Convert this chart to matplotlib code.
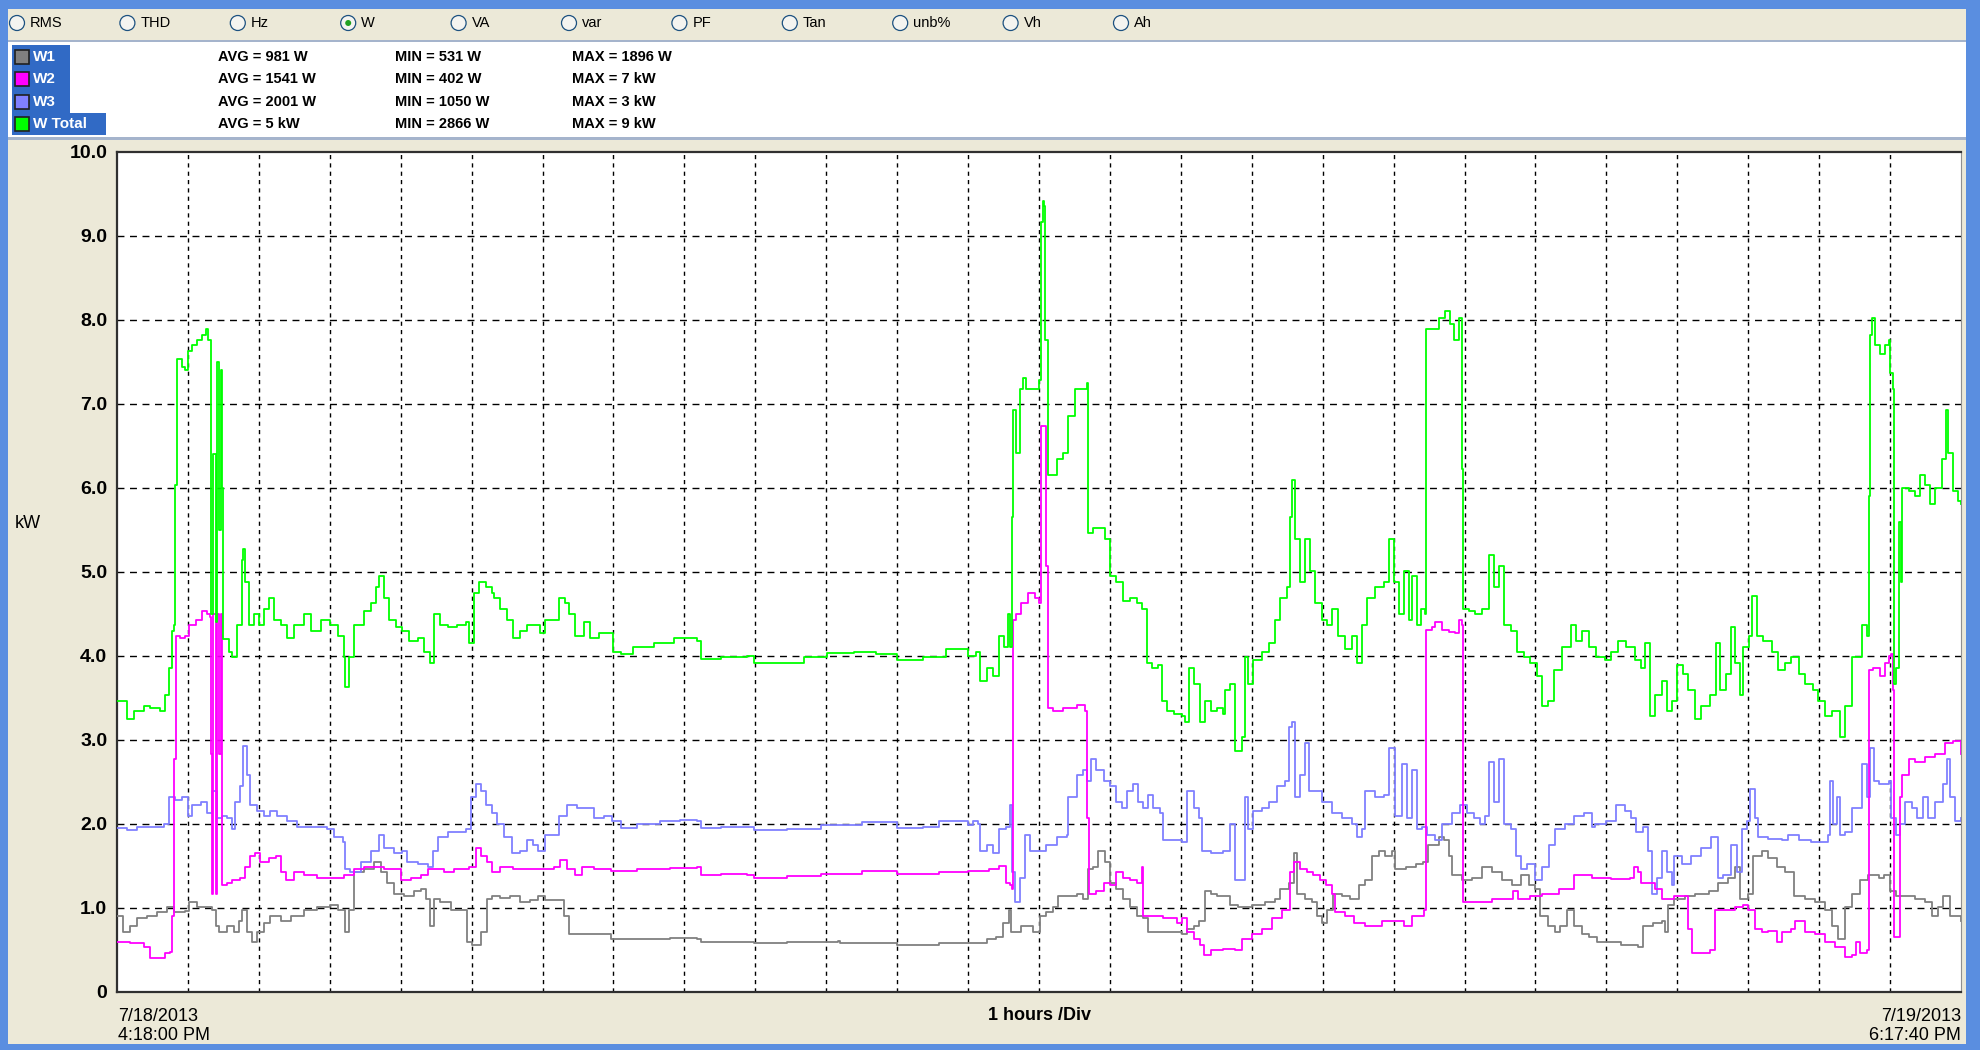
import matplotlib
matplotlib.use("Agg")
import matplotlib.pyplot as plt
from matplotlib import font_manager
from matplotlib.patches import Rectangle, Ellipse

# ---- data: hours since 7/18/2013 4:18:00 PM, power in kW ----
w1_h = [0.00, 0.09, 0.19, 0.28, 0.42, 0.56, 0.71, 0.80, 0.89, 0.96, 1.01, 1.13, 1.25, 1.34, 1.39, 1.44,
        1.55, 1.65, 1.72, 1.76, 1.84, 1.91, 1.98, 2.07, 2.16, 2.31, 2.45, 2.64, 2.82, 3.01, 3.11, 3.20,
        3.22, 3.27, 3.34, 3.48, 3.62, 3.72, 3.81, 3.91, 4.05, 4.19, 4.28, 4.35, 4.42, 4.47, 4.56, 4.71,
        4.89, 4.94, 5.01, 5.13, 5.22, 5.29, 5.40, 5.54, 5.68, 5.83, 5.94, 6.04, 6.20, 6.30, 6.37, 6.63,
        6.88, 6.96, 7.33, 7.80, 8.18, 8.23, 8.88, 8.98, 9.45, 10.16, 10.20, 10.51, 11.00, 11.59, 12.21,
        12.26, 12.40, 12.49, 12.58, 12.61, 12.68, 12.75, 12.82, 12.92, 13.01, 13.10, 13.20, 13.27, 13.39,
        13.53, 13.62, 13.69, 13.76, 13.83, 13.93, 14.00, 14.09, 14.19, 14.28, 14.38, 14.47, 14.54, 14.66,
        14.85, 15.01, 15.08, 15.18, 15.25, 15.34, 15.42, 15.51, 15.60, 15.69, 15.81, 16.00, 16.19, 16.33,
        16.40, 16.52, 16.59, 16.64, 16.75, 16.85, 16.92, 16.99, 17.06, 17.15, 17.27, 17.39, 17.51, 17.60,
        17.70, 17.79, 17.88, 17.98, 18.02, 18.17, 18.31, 18.42, 18.49, 18.64, 18.71, 18.78, 18.82, 18.96,
        19.11, 19.25, 19.39, 19.53, 19.67, 19.79, 19.91, 20.00, 20.07, 20.17, 20.28, 20.35, 20.45, 20.54,
        20.66, 20.75, 20.87, 21.02, 21.21, 21.45, 21.52, 21.66, 21.78, 21.82, 21.87, 21.96, 22.11, 22.25,
        22.44, 22.58, 22.72, 22.81, 22.88, 23.00, 23.07, 23.19, 23.28, 23.40, 23.52, 23.64, 23.80, 23.94,
        24.08, 24.18, 24.27, 24.36, 24.46, 24.58, 24.69, 24.84, 24.91, 25.00, 25.09, 25.21, 25.35, 25.49,
        25.59, 25.68, 25.75, 25.85, 26.00]
w1_kw = [0.91, 0.72, 0.79, 0.88, 0.91, 0.95, 1.01, 0.95, 0.95, 0.97, 1.07, 1.01, 1.01, 0.98, 0.79, 0.72,
         0.79, 0.72, 0.85, 0.98, 0.72, 0.60, 0.72, 0.82, 0.91, 0.85, 0.91, 0.98, 1.01, 1.04, 0.98, 0.98,
         0.72, 0.98, 1.43, 1.46, 1.55, 1.43, 1.30, 1.17, 1.14, 1.20, 1.23, 1.11, 0.79, 1.11, 1.07, 0.98,
         0.98, 0.60, 0.56, 0.72, 1.11, 1.14, 1.12, 1.14, 1.07, 1.09, 1.14, 1.09, 1.09, 0.91, 0.69, 0.69,
         0.69, 0.63, 0.63, 0.64, 0.63, 0.60, 0.60, 0.58, 0.60, 0.61, 0.58, 0.58, 0.56, 0.58, 0.58,
         0.63, 0.66, 0.82, 0.98, 0.72, 0.72, 0.79, 0.79, 0.72, 0.91, 0.95, 1.01, 1.14, 1.14,
         1.17, 1.11, 1.46, 1.49, 1.68, 1.55, 1.30, 1.23, 1.11, 1.01, 0.91, 0.88, 0.72, 0.72,
         0.72, 0.69, 0.75, 0.79, 0.85, 1.20, 1.17, 1.14, 1.14, 1.04, 1.01, 1.04, 1.07, 1.11,
         1.23, 1.30, 1.65, 1.17, 1.11, 1.07, 0.91, 0.82, 0.98, 1.17, 1.14, 1.11, 1.27, 1.33,
         1.62, 1.68, 1.62, 1.68, 1.46, 1.49, 1.52, 1.55, 1.75, 1.84, 1.81, 1.62, 1.39, 1.33,
         1.36, 1.49, 1.43, 1.33, 1.27, 1.39, 1.27, 1.23, 0.91, 0.79, 0.72, 0.79, 0.98, 0.79,
         0.69, 0.66, 0.60, 0.60, 0.56, 0.54, 0.79, 0.82, 0.85, 0.72, 1.04, 1.11, 1.14, 1.17,
         1.20, 1.30, 1.36, 1.49, 1.11, 1.17, 1.62, 1.68, 1.59, 1.49, 1.43, 1.14, 1.11, 1.07,
         0.98, 0.79, 0.63, 1.01, 1.17, 1.33, 1.39, 1.36, 1.39, 1.20, 1.14, 1.14, 1.11, 1.07,
         0.91, 1.01, 1.14, 0.91, 0.85]

w2_h = [0.00, 0.19, 0.38, 0.47, 0.61, 0.68, 0.75, 0.78, 0.81, 0.83, 0.89, 0.96, 1.01, 1.11, 1.20, 1.27,
        1.31, 1.32, 1.34, 1.36, 1.39, 1.41, 1.44, 1.46, 1.48, 1.55, 1.62, 1.74, 1.81, 1.88, 1.95, 2.02,
        2.14, 2.24, 2.31, 2.38, 2.49, 2.64, 2.82, 3.01, 3.20, 3.34, 3.48, 3.62, 3.76, 3.91, 4.00, 4.14,
        4.28, 4.38, 4.47, 4.61, 4.75, 4.96, 5.06, 5.13, 5.22, 5.29, 5.40, 5.59, 5.78, 5.97, 6.16, 6.25,
        6.34, 6.46, 6.55, 6.72, 6.96, 7.33, 7.80, 8.18, 8.23, 8.51, 8.88, 8.98, 9.45, 9.92, 10.51, 11.00,
        11.59, 12.00, 12.30, 12.44, 12.54, 12.59, 12.62, 12.63, 12.68, 12.75, 12.84, 12.94, 13.00, 13.03,
        13.08, 13.10, 13.13, 13.20, 13.34, 13.53, 13.65, 13.68, 13.71, 13.81, 13.91, 14.00, 14.09, 14.19,
        14.28, 14.38, 14.45, 14.47, 14.57, 14.75, 14.94, 15.01, 15.08, 15.18, 15.27, 15.32, 15.42, 15.60,
        15.77, 15.86, 16.00, 16.14, 16.28, 16.42, 16.52, 16.54, 16.59, 16.68, 16.78, 16.87, 16.96, 17.04,
        17.13, 17.18, 17.32, 17.44, 17.60, 17.84, 18.02, 18.14, 18.26, 18.43, 18.45, 18.54, 18.59, 18.68,
        18.78, 18.87, 18.92, 18.96, 18.98, 19.11, 19.39, 19.62, 19.68, 19.76, 19.93, 20.09, 20.33, 20.54,
        20.68, 20.80, 21.07, 21.33, 21.39, 21.45, 21.49, 21.59, 21.68, 21.78, 21.96, 22.11, 22.15, 22.21,
        22.34, 22.46, 22.53, 22.62, 22.81, 22.93, 23.00, 23.09, 23.19, 23.28, 23.40, 23.47, 23.61, 23.66,
        23.80, 23.94, 24.08, 24.22, 24.36, 24.46, 24.52, 24.58, 24.67, 24.70, 24.76, 24.86, 24.93, 24.98,
        25.01, 25.04, 25.06, 25.13, 25.14, 25.17, 25.26, 25.35, 25.49, 25.64, 25.78, 25.89, 25.96, 26.00]
w2_kw = [0.60, 0.58, 0.53, 0.40, 0.40, 0.47, 0.48, 0.91, 2.77, 4.24, 4.21, 4.24, 4.37, 4.43, 4.53, 4.50,
         4.47, 2.83, 1.17, 4.50, 1.17, 4.50, 2.83, 4.50, 1.27, 1.30, 1.33, 1.36, 1.49, 1.62, 1.65, 1.55,
         1.59, 1.62, 1.43, 1.33, 1.43, 1.39, 1.36, 1.36, 1.39, 1.46, 1.49, 1.49, 1.46, 1.46, 1.33, 1.36,
         1.39, 1.46, 1.46, 1.43, 1.46, 1.49, 1.71, 1.62, 1.55, 1.43, 1.49, 1.46, 1.46, 1.46, 1.49, 1.57,
         1.46, 1.39, 1.49, 1.46, 1.44, 1.46, 1.48, 1.49, 1.39, 1.40, 1.39, 1.36, 1.38, 1.40, 1.44, 1.41,
         1.43, 1.44, 1.47, 1.50, 1.30, 1.27, 1.23, 4.43, 4.50, 4.63, 4.75, 4.69, 4.63, 6.74,
         6.74, 5.07, 3.38, 3.35, 3.38, 3.42, 3.35, 2.07, 1.17, 1.20, 1.30, 1.27, 1.43, 1.36,
         1.33, 1.30, 1.49, 0.91, 0.91, 0.88, 0.82, 0.88, 0.72, 0.63, 0.56, 0.44, 0.50, 0.51,
         0.50, 0.63, 0.69, 0.75, 0.88, 0.98, 0.98, 1.43, 1.55, 1.46, 1.43, 1.39, 1.33, 1.27,
         1.17, 0.95, 0.91, 0.82, 0.79, 0.85, 0.85, 0.79, 0.91, 0.98, 4.31, 4.34, 4.40, 4.31,
         4.29, 4.27, 4.43, 4.37, 1.07, 1.07, 1.11, 1.11, 1.20, 1.11, 1.14, 1.17, 1.23, 1.39,
         1.39, 1.36, 1.35, 1.36, 1.49, 1.43, 1.30, 1.30, 1.23, 1.11, 1.14, 1.14, 0.75, 0.47,
         0.47, 0.50, 0.98, 0.98, 1.01, 1.04, 0.98, 0.75, 0.72, 0.73, 0.60, 0.72, 0.75, 0.85,
         0.72, 0.69, 0.60, 0.53, 0.42, 0.44, 0.60, 0.47, 0.50, 3.83, 3.86, 3.76, 3.92, 4.00,
         4.02, 3.60, 0.66, 0.66, 2.32, 2.58, 2.77, 2.74, 2.80, 2.83, 2.96, 2.99, 2.99, 2.83]

w3_h = [0.00, 0.14, 0.28, 0.47, 0.66, 0.73, 0.82, 0.92, 1.00, 1.06, 1.18, 1.27, 1.34, 1.41, 1.48, 1.55,
        1.62, 1.67, 1.74, 1.78, 1.84, 1.88, 1.98, 2.07, 2.16, 2.26, 2.40, 2.54, 2.68, 2.82, 2.96, 3.06,
        3.18, 3.22, 3.29, 3.44, 3.58, 3.69, 3.76, 3.91, 4.02, 4.09, 4.24, 4.38, 4.45, 4.52, 4.66, 4.80,
        4.92, 4.99, 5.06, 5.13, 5.20, 5.29, 5.36, 5.45, 5.57, 5.68, 5.78, 5.87, 5.94, 6.04, 6.16, 6.23,
        6.34, 6.48, 6.60, 6.72, 6.86, 6.98, 7.10, 7.33, 7.66, 7.94, 8.18, 8.23, 8.51, 8.88, 8.98, 9.45,
        9.92, 10.51, 11.00, 11.36, 11.59, 11.78, 12.00, 12.07, 12.14, 12.17, 12.26, 12.35, 12.44, 12.54,
        12.59, 12.62, 12.66, 12.73, 12.80, 12.87, 13.01, 13.10, 13.25, 13.39, 13.41, 13.53, 13.62, 13.67,
        13.74, 13.81, 13.91, 14.00, 14.09, 14.17, 14.24, 14.33, 14.40, 14.47, 14.54, 14.61, 14.71, 14.75,
        14.90, 15.01, 15.09, 15.18, 15.25, 15.30, 15.42, 15.60, 15.69, 15.77, 15.86, 15.91, 15.95, 16.02,
        16.14, 16.24, 16.35, 16.47, 16.52, 16.57, 16.61, 16.68, 16.75, 16.80, 16.87, 16.99, 17.13, 17.27,
        17.41, 17.48, 17.55, 17.60, 17.74, 17.86, 17.93, 18.02, 18.12, 18.19, 18.26, 18.33, 18.40, 18.47,
        18.59, 18.68, 18.82, 18.94, 19.04, 19.13, 19.22, 19.29, 19.34, 19.41, 19.48, 19.55, 19.65, 19.72,
        19.79, 19.88, 20.00, 20.09, 20.19, 20.28, 20.42, 20.54, 20.68, 20.80, 20.84, 21.00, 21.14, 21.26,
        21.35, 21.42, 21.52, 21.59, 21.64, 21.71, 21.78, 21.85, 21.92, 21.96, 22.06, 22.20, 22.34, 22.48,
        22.58, 22.65, 22.76, 22.84, 22.91, 22.98, 23.02, 23.09, 23.14, 23.28, 23.47, 23.56, 23.71, 23.89,
        24.04, 24.13, 24.15, 24.20, 24.25, 24.29, 24.36, 24.46, 24.55, 24.60, 24.67, 24.72, 24.77, 24.84,
        24.91, 24.98, 25.02, 25.09, 25.14, 25.21, 25.31, 25.38, 25.47, 25.54, 25.64, 25.75, 25.80, 25.85,
        25.92, 26.00]
w3_kw = [1.95, 1.93, 1.97, 1.97, 2.00, 2.32, 2.29, 2.32, 2.10, 2.23, 2.26, 2.13, 2.39, 2.07, 2.10, 2.07,
         1.94, 2.26, 2.45, 2.93, 2.58, 2.23, 2.16, 2.10, 2.16, 2.10, 2.03, 1.97, 1.97, 1.97, 1.94, 1.84,
         1.78, 1.46, 1.43, 1.55, 1.68, 1.87, 1.71, 1.65, 1.68, 1.55, 1.52, 1.49, 1.68, 1.84, 1.91, 1.91,
         1.94, 2.32, 2.48, 2.39, 2.23, 2.13, 2.00, 1.84, 1.65, 1.68, 1.81, 1.75, 1.68, 1.87, 1.87, 2.10,
         2.23, 2.19, 2.19, 2.07, 2.09, 2.03, 1.95, 2.00, 2.03, 2.05, 2.03, 1.95, 1.97, 1.97, 1.93, 1.94,
         1.99, 2.02, 1.95, 1.97, 2.03, 2.03, 1.99, 2.03, 2.00, 1.68, 1.75, 1.65, 1.94, 1.97,
         2.23, 1.43, 1.07, 1.36, 1.87, 1.68, 1.68, 1.75, 1.84, 1.87, 2.32, 2.58, 2.64, 2.51,
         2.77, 2.64, 2.51, 2.45, 2.26, 2.19, 2.39, 2.48, 2.26, 2.19, 2.35, 2.19, 2.13, 1.81,
         1.81, 1.78, 2.39, 2.19, 2.07, 1.68, 1.65, 1.68, 2.00, 1.33, 1.33, 2.32, 1.94, 2.16,
         2.19, 2.26, 2.45, 2.51, 3.15, 3.22, 2.32, 2.58, 2.96, 2.39, 2.39, 2.26, 2.13, 2.07,
         2.00, 1.84, 1.94, 2.39, 2.32, 2.35, 2.90, 2.10, 2.71, 2.07, 2.64, 1.94, 1.97, 1.87,
         1.81, 2.00, 2.13, 2.23, 2.13, 2.07, 2.00, 2.10, 2.74, 2.26, 2.77, 2.00, 1.94, 1.62,
         1.46, 1.52, 1.33, 1.49, 1.75, 1.94, 2.00, 2.10, 2.13, 1.97, 2.00, 2.03, 2.23, 2.16,
         2.07, 1.91, 1.97, 1.68, 1.17, 1.36, 1.68, 1.43, 1.27, 1.62, 1.52, 1.62, 1.71, 1.84,
         1.36, 1.39, 1.75, 1.43, 1.94, 2.03, 2.42, 2.07, 1.84, 1.82, 1.81, 1.87, 1.81, 1.78,
         1.78, 1.87, 2.51, 2.00, 2.32, 1.87, 1.91, 2.19, 2.19, 2.71, 2.32, 2.90, 2.51, 2.48,
         2.48, 2.51, 2.07, 1.87, 2.00, 2.26, 2.19, 2.07, 2.32, 2.07, 2.26, 2.48, 2.77, 2.32,
         2.03, 2.07]

wt_h = [0.00, 0.14, 0.24, 0.38, 0.47, 0.61, 0.68, 0.73, 0.78, 0.81, 0.82, 0.84, 0.92, 0.96, 1.00, 1.06,
        1.13, 1.20, 1.25, 1.29, 1.32, 1.33, 1.36, 1.39, 1.41, 1.44, 1.46, 1.48, 1.50, 1.58, 1.62, 1.69,
        1.76, 1.78, 1.81, 1.86, 1.93, 2.00, 2.07, 2.14, 2.21, 2.31, 2.40, 2.49, 2.64, 2.73, 2.87, 3.01,
        3.11, 3.20, 3.22, 3.27, 3.34, 3.48, 3.58, 3.65, 3.69, 3.76, 3.84, 3.93, 4.02, 4.12, 4.24, 4.33,
        4.41, 4.47, 4.56, 4.66, 4.80, 4.92, 4.96, 5.04, 5.11, 5.20, 5.29, 5.31, 5.40, 5.50, 5.59, 5.68,
        5.78, 5.87, 5.97, 6.04, 6.13, 6.23, 6.32, 6.37, 6.46, 6.58, 6.67, 6.79, 6.91, 7.00, 7.10, 7.28,
        7.57, 7.85, 8.18, 8.23, 8.51, 8.88, 8.98, 9.21, 9.68, 10.01, 10.39, 10.70, 11.00, 11.36, 11.69,
        12.00, 12.11, 12.17, 12.26, 12.35, 12.44, 12.51, 12.56, 12.59, 12.62, 12.63, 12.67, 12.73, 12.77,
        12.82, 12.92, 13.00, 13.03, 13.05, 13.07, 13.09, 13.13, 13.17, 13.25, 13.34, 13.41, 13.51, 13.60,
        13.67, 13.69, 13.76, 13.86, 13.93, 14.00, 14.09, 14.19, 14.28, 14.38, 14.45, 14.52, 14.59, 14.68,
        14.73, 14.80, 14.90, 15.01, 15.06, 15.11, 15.18, 15.27, 15.34, 15.42, 15.51, 15.60, 15.62, 15.69,
        15.77, 15.86, 15.91, 15.95, 16.02, 16.14, 16.24, 16.33, 16.40, 16.49, 16.54, 16.57, 16.61, 16.68,
        16.75, 16.82, 16.89, 16.99, 17.06, 17.13, 17.22, 17.32, 17.41, 17.48, 17.55, 17.62, 17.74, 17.86,
        17.93, 18.00, 18.07, 18.14, 18.21, 18.26, 18.33, 18.38, 18.44, 18.45, 18.54, 18.64, 18.73, 18.80,
        18.85, 18.92, 18.96, 18.97, 18.98, 19.06, 19.15, 19.25, 19.34, 19.41, 19.48, 19.55, 19.65, 19.74,
        19.84, 19.93, 20.02, 20.09, 20.17, 20.26, 20.38, 20.50, 20.57, 20.66, 20.75, 20.85, 20.98, 21.07,
        21.16, 21.28, 21.40, 21.49, 21.54, 21.61, 21.68, 21.78, 21.85, 21.92, 21.99, 22.08, 22.15, 22.25,
        22.34, 22.46, 22.55, 22.60, 22.69, 22.76, 22.81, 22.88, 22.93, 23.01, 23.05, 23.12, 23.21, 23.33,
        23.42, 23.52, 23.61, 23.71, 23.80, 23.92, 23.99, 24.08, 24.18, 24.29, 24.36, 24.46, 24.55, 24.60,
        24.67, 24.70, 24.72, 24.74, 24.79, 24.86, 24.93, 24.98, 25.00, 25.04, 25.06, 25.09, 25.13, 25.16,
        25.17, 25.26, 25.35, 25.42, 25.49, 25.56, 25.64, 25.73, 25.79, 25.82, 25.89, 25.96, 26.00]
wt_kw = [3.47, 3.25, 3.35, 3.41, 3.38, 3.35, 3.54, 3.86, 4.30, 4.37, 6.03, 7.54, 7.44, 7.41, 7.63, 7.70,
         7.76, 7.82, 7.89, 7.76, 6.20, 4.50, 6.40, 4.40, 7.50, 5.50, 7.40, 6.00, 4.20, 4.05, 3.99, 4.37,
         5.14, 5.27, 4.88, 4.37, 4.50, 4.37, 4.56, 4.69, 4.43, 4.37, 4.21, 4.37, 4.50, 4.30, 4.43, 4.37,
         4.24, 3.99, 3.63, 3.99, 4.37, 4.53, 4.63, 4.82, 4.95, 4.69, 4.43, 4.34, 4.30, 4.18, 4.21, 4.05,
         3.92, 4.50, 4.37, 4.34, 4.37, 4.40, 4.15, 4.75, 4.88, 4.82, 4.75, 4.69, 4.56, 4.43, 4.21, 4.30,
         4.37, 4.37, 4.27, 4.43, 4.43, 4.69, 4.63, 4.50, 4.24, 4.40, 4.21, 4.27, 4.27, 4.05, 4.02, 4.11,
         4.15, 4.21, 4.18, 3.97, 3.99, 4.00, 3.92, 3.92, 3.99, 4.04, 4.05, 4.02, 3.95, 3.99, 4.08,
         4.00, 4.05, 3.70, 3.86, 3.76, 4.24, 4.11, 4.50, 4.11, 5.65, 6.93, 6.42, 7.18, 7.31,
         7.18, 7.18, 7.28, 9.17, 9.42, 9.36, 7.76, 6.16, 6.16, 6.35, 6.42, 6.86, 7.18, 7.18,
         7.25, 5.46, 5.52, 5.52, 5.39, 4.95, 4.88, 4.66, 4.69, 4.63, 4.56, 3.92, 3.86, 3.89,
         3.47, 3.35, 3.31, 3.28, 3.22, 3.86, 3.67, 3.22, 3.47, 3.35, 3.38, 3.31, 3.60, 3.67,
         2.87, 3.03, 3.99, 3.67, 3.95, 4.05, 4.15, 4.43, 4.69, 4.82, 5.65, 6.10, 5.39, 4.88,
         5.39, 5.01, 4.63, 4.43, 4.37, 4.56, 4.24, 4.08, 4.24, 3.92, 4.37, 4.69, 4.82, 4.88,
         5.39, 4.88, 4.50, 5.01, 4.43, 4.95, 4.37, 4.56, 4.50, 7.89, 7.89, 8.02, 8.11, 7.95,
         7.76, 8.02, 7.95, 6.23, 4.56, 4.53, 4.50, 4.56, 5.20, 4.82, 5.07, 4.37, 4.30, 4.05,
         3.99, 3.92, 3.76, 3.41, 3.47, 3.83, 4.11, 4.37, 4.18, 4.30, 4.11, 3.99, 3.95, 4.05,
         4.18, 4.11, 3.95, 3.86, 4.15, 3.28, 3.54, 3.70, 3.35, 3.47, 3.89, 3.79, 3.60, 3.25,
         3.41, 3.54, 4.15, 3.60, 3.79, 4.34, 3.92, 3.54, 4.11, 4.24, 4.72, 4.24, 4.18, 4.05,
         3.83, 3.92, 3.99, 3.79, 3.67, 3.60, 3.47, 3.28, 3.35, 3.03, 3.41, 3.99, 3.99, 4.37,
         4.24, 5.91, 7.82, 8.02, 7.70, 7.60, 7.70, 7.76, 7.37, 7.18, 3.67, 3.86, 5.59, 4.88,
         6.00, 5.97, 5.91, 6.16, 6.03, 5.81, 6.00, 6.35, 6.93, 6.42, 5.97, 5.84, 5.81]

radio_labels = ["RMS", "THD", "Hz", "W", "VA", "var", "PF", "Tan", "unb%", "Vh", "Ah"]
selected_radio = "W"
series_names = ["W1", "W2", "W3", "W Total"]
series_colors = ["#808080", "#ff00ff", "#8080ff", "#00ff00"]
avg_labels = ["AVG = 981 W", "AVG = 1541 W", "AVG = 2001 W", "AVG = 5 kW"]
min_labels = ["MIN = 531 W", "MIN = 402 W", "MIN = 1050 W", "MIN = 2866 W"]
max_labels = ["MAX = 1896 W", "MAX = 7 kW", "MAX = 3 kW", "MAX = 9 kW"]
y_ticks = list(range(0, 11))
y_tick_labels = ["0"] + ["%d.0" % v for v in range(1, 11)]
start_label = "7/18/2013\n4:18:00 PM"
end_label = "7/19/2013\n6:17:40 PM"
div_label = "1 hours /Div"
total_hours = 26

BEIGE = "#ece9d8"
FRAME = "#5a8ee0"
HILITE = "#316ac5"
EDGE = "#a5b4cc"


def pick_font(names):
    have = {f.name for f in font_manager.fontManager.ttflist}
    for n in names:
        if n in have:
            return n
    return "DejaVu Sans"


narrow = pick_font(["Liberation Sans Narrow", "Liberation Sans"])
sans = pick_font(["Liberation Sans", "Arial"])

W, H = 1980, 1050
fig = plt.figure(figsize=(W / 100, H / 100), dpi=100)
fig.patch.set_facecolor(FRAME)


def px_rect(x0, y0, x1, y1, **kw):
    fig.patches.append(Rectangle((x0 / W, 1 - y1 / H), (x1 - x0) / W, (y1 - y0) / H,
                                 transform=fig.transFigure, figure=fig, zorder=-5, **kw))


def px_text(x, y, s, **kw):
    fig.text(x / W, 1 - y / H, s, **kw)


# window panels
px_rect(8, 9, 1966, 1044, facecolor=BEIGE, edgecolor="none")
px_rect(8, 40, 1966, 42, facecolor=EDGE, edgecolor="none")
px_rect(8, 42, 1966, 137, facecolor="white", edgecolor="none")
px_rect(8, 137, 1966, 140, facecolor=EDGE, edgecolor="none")

# radio buttons
for i, lab in enumerate(radio_labels):
    cx = 17 + i * 110.4
    fig.patches.append(Ellipse((cx / W, 1 - 23 / H), 15 / W, 15 / H, transform=fig.transFigure,
                               facecolor="#f4f4f0", edgecolor="#1c5180", linewidth=0.9, figure=fig))
    if lab == selected_radio:
        fig.patches.append(Ellipse((cx / W, 1 - 23 / H), 6 / W, 6 / H, transform=fig.transFigure,
                                   facecolor="#21a121", edgecolor="none", figure=fig))
    px_text(cx + 13, 23, lab, fontsize=10.5, family=narrow, va="center", ha="left", color="black")

# legend block
px_rect(12, 45, 70, 135, facecolor=HILITE, edgecolor="none")
px_rect(70, 113, 106, 135, facecolor=HILITE, edgecolor="none")
row_y = [57, 79, 102, 124]
for i in range(4):
    y = row_y[i]
    px_rect(15, y - 7, 29, y + 7, facecolor=series_colors[i], edgecolor="#202020", linewidth=1.2)
    px_text(33, y, series_names[i], fontsize=11, family=narrow, weight="bold", va="center", color="white")
    px_text(218, y, avg_labels[i], fontsize=10.5, family=narrow, weight="bold", va="center")
    px_text(395, y, min_labels[i], fontsize=10.5, family=narrow, weight="bold", va="center")
    px_text(572, y, max_labels[i], fontsize=10.5, family=narrow, weight="bold", va="center")

# chart
ax = fig.add_axes([117 / W, 1 - 992 / H, (1961 - 117) / W, (992 - 152) / H])
ax.set_facecolor("white")
for hh in range(1, total_hours):
    ax.axvline(hh, color="black", linewidth=1.0, linestyle=(0, (3, 3)), zorder=1)
for v in range(1, 10):
    ax.axhline(v, color="black", linewidth=1.0, linestyle=(0, (5, 4)), zorder=1)

ax.plot(w1_h, w1_kw, color=series_colors[0], linewidth=1.3, drawstyle="steps-post", zorder=3)
ax.plot(w2_h, w2_kw, color=series_colors[1], linewidth=1.3, drawstyle="steps-post", zorder=4)
ax.plot(w3_h, w3_kw, color=series_colors[2], linewidth=1.3, drawstyle="steps-post", zorder=3)
ax.plot(wt_h, wt_kw, color=series_colors[3], linewidth=1.3, drawstyle="steps-post", zorder=5)

ax.set_xlim(0, total_hours)
ax.set_ylim(0, 10)
ax.set_xticks([])
ax.set_yticks(y_ticks)
ax.set_yticklabels(y_tick_labels, fontsize=14, fontweight="bold", family=sans)
ax.tick_params(axis="y", length=0, pad=7)
for side in ["left", "bottom", "top"]:
    ax.spines[side].set_color("#303030")
    ax.spines[side].set_linewidth(1.6)
ax.spines["right"].set_color("#909090")
ax.spines["right"].set_linewidth(0.8)

px_text(15, 524, "kW", fontsize=13, family=sans, va="center", ha="left")
px_text(118, 1026, start_label, fontsize=13, family=sans, va="center", ha="left", linespacing=1.15)
px_text(1961, 1026, end_label, fontsize=13, family=sans, va="center", ha="right", linespacing=1.15,
        multialignment="right")
px_text(1040, 1015, div_label, fontsize=13, family=narrow, weight="bold", va="center", ha="center")

fig.savefig("out.png", dpi=100, facecolor=fig.get_facecolor())
